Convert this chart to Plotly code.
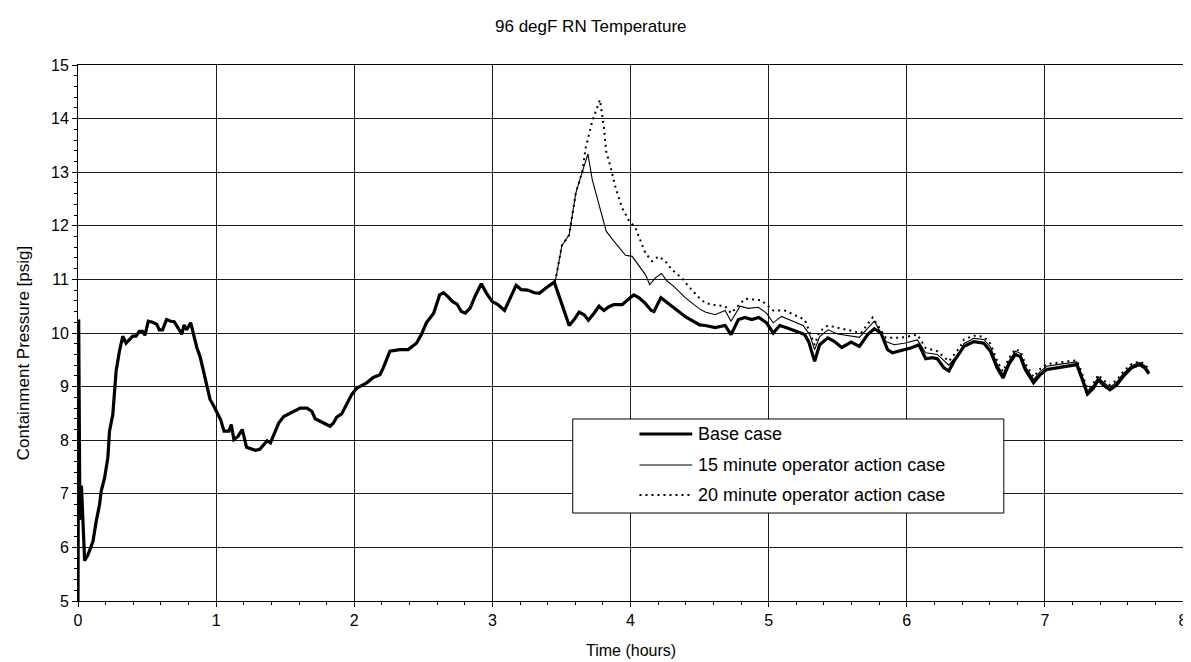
import plotly.graph_objects as go

# ---------------- data ----------------
# Shared part (all three cases identical up to ~3.45 h)
common_t = [0.0, 0.005, 0.012, 0.018, 0.025, 0.032, 0.048, 0.072, 0.108, 0.132, 0.156, 0.168, 0.192,
            0.216, 0.228, 0.252, 0.276, 0.300, 0.324, 0.348, 0.396, 0.42, 0.444, 0.468, 0.485, 0.509,
            0.54, 0.571, 0.588, 0.612, 0.641, 0.672, 0.696, 0.725, 0.752, 0.768, 0.787, 0.816, 0.836,
            0.860, 0.884, 0.908, 0.932, 0.956, 0.985, 1.009, 1.033, 1.057, 1.093, 1.110, 1.129, 1.158,
            1.189, 1.220, 1.249, 1.285, 1.316, 1.345, 1.369, 1.393, 1.422, 1.453, 1.489, 1.525, 1.573,
            1.609, 1.657, 1.693, 1.717, 1.753, 1.789, 1.825, 1.849, 1.873, 1.909, 1.945, 1.981, 2.018,
            2.09, 2.138, 2.186, 2.21, 2.258, 2.33, 2.39, 2.45, 2.486, 2.522, 2.575, 2.618, 2.647, 2.678,
            2.71, 2.744, 2.775, 2.804, 2.84, 2.879, 2.92, 2.956, 2.997, 3.04, 3.088, 3.129, 3.172, 3.208,
            3.256, 3.304, 3.34, 3.388, 3.448]
common_p = [5.0, 10.25, 7.24, 6.52, 7.15, 6.6, 5.75, 5.86, 6.11, 6.49, 6.80, 7.05, 7.29,
            7.67, 8.17, 8.48, 9.29, 9.66, 9.94, 9.81, 9.94, 9.94, 10.03, 10.03, 9.96, 10.22,
            10.2, 10.16, 10.06, 10.06, 10.25, 10.22, 10.21, 10.09, 9.98, 10.15, 10.06, 10.19, 9.96,
            9.73, 9.56, 9.28, 9.03, 8.76, 8.63, 8.51, 8.38, 8.17, 8.17, 8.29, 8.01, 8.07,
            8.20, 7.87, 7.84, 7.81, 7.83, 7.93, 7.99, 7.95, 8.13, 8.32, 8.44, 8.49, 8.54,
            8.60, 8.60, 8.54, 8.40, 8.35, 8.31, 8.26, 8.32, 8.43, 8.49, 8.66, 8.85, 8.97,
            9.07, 9.17, 9.22, 9.35, 9.66, 9.69, 9.69, 9.81, 9.97, 10.19, 10.37, 10.71, 10.75, 10.68,
            10.59, 10.54, 10.40, 10.37, 10.47, 10.71, 10.92, 10.75, 10.59, 10.53, 10.42, 10.65, 10.89, 10.81,
            10.80, 10.75, 10.74, 10.84, 10.95]

# Base case after the branch point
base_tail_t = [3.496, 3.556, 3.592, 3.628, 3.664, 3.695, 3.736, 3.772, 3.808, 3.844, 3.88, 3.94, 3.988,
               4.024, 4.06, 4.104, 4.15, 4.17, 4.22, 4.3, 4.4, 4.5, 4.541, 4.613, 4.685, 4.728, 4.781,
               4.829, 4.877, 4.929, 4.985, 5.033, 5.081, 5.141, 5.213, 5.261, 5.29, 5.333, 5.369, 5.429,
               5.477, 5.53, 5.597, 5.657, 5.717, 5.765, 5.813, 5.861, 5.897, 5.957, 6.029, 6.089, 6.137,
               6.185, 6.221, 6.269, 6.305, 6.341, 6.414, 6.486, 6.558, 6.606, 6.654, 6.697, 6.738, 6.786,
               6.822, 6.858, 6.918, 6.966, 7.014, 7.086, 7.159, 7.231, 7.267, 7.308, 7.351, 7.387, 7.423,
               7.471, 7.519, 7.567, 7.627, 7.687, 7.723, 7.754]
base_tail_p = [10.59, 10.14, 10.25, 10.39, 10.34, 10.24, 10.37, 10.50, 10.42, 10.49, 10.53, 10.53, 10.64,
               10.71, 10.66, 10.56, 10.42, 10.40, 10.66, 10.50, 10.30, 10.15, 10.14, 10.10, 10.14, 9.97, 10.25,
               10.29, 10.25, 10.29, 10.19, 10.0, 10.14, 10.09, 10.02, 9.97, 9.84, 9.47, 9.78, 9.91,
               9.84, 9.73, 9.83, 9.75, 9.97, 10.08, 10.0, 9.69, 9.63, 9.67, 9.72, 9.78, 9.52,
               9.54, 9.52, 9.35, 9.29, 9.47, 9.75, 9.84, 9.81, 9.66, 9.35, 9.16, 9.41, 9.60,
               9.56, 9.32, 9.07, 9.22, 9.32, 9.35, 9.38, 9.41, 9.16, 8.86, 8.97, 9.13, 9.03,
               8.94, 9.03, 9.19, 9.35, 9.41, 9.35, 9.24]

# 15 minute operator action case after the branch point
op15_tail_t = [3.46, 3.503, 3.556, 3.58, 3.604, 3.652, 3.692, 3.723, 3.771, 3.824, 3.868, 3.916, 3.964,
               4.012, 4.06, 4.108, 4.139, 4.18, 4.224, 4.265, 4.313, 4.4, 4.5, 4.541, 4.613, 4.685, 4.728,
               4.793, 4.853, 4.925, 4.985, 5.033, 5.093, 5.165, 5.249, 5.297, 5.333, 5.369, 5.429, 5.501,
               5.573, 5.657, 5.765, 5.849, 5.909, 5.981, 6.077, 6.137, 6.221, 6.305, 6.389, 6.414, 6.486,
               6.558, 6.606, 6.654, 6.697, 6.738, 6.786, 6.822, 6.858, 6.918, 6.966, 7.014, 7.086, 7.159,
               7.231, 7.267, 7.308, 7.351, 7.387, 7.423, 7.471, 7.519, 7.567, 7.627, 7.687, 7.723, 7.754]
op15_tail_p = [11.03, 11.63, 11.83, 12.24, 12.61, 13.02, 13.34, 12.86, 12.39, 11.90, 11.75, 11.59, 11.45,
               11.43, 11.27, 11.09, 10.90, 11.03, 11.11, 10.97, 10.87, 10.65, 10.45, 10.39, 10.34, 10.42, 10.22,
               10.50, 10.46, 10.48, 10.37, 10.19, 10.31, 10.23, 10.14, 9.97, 9.69, 9.93, 10.06, 9.98,
               9.95, 9.92, 10.22, 9.84, 9.78, 9.81, 9.87, 9.63, 9.60, 9.40, 9.66, 9.80, 9.90,
               9.88, 9.74, 9.42, 9.22, 9.47, 9.66, 9.62, 9.38, 9.13, 9.28, 9.38, 9.41, 9.44,
               9.46, 9.22, 8.92, 9.02, 9.18, 9.08, 8.99, 9.08, 9.24, 9.39, 9.45, 9.39, 9.28]

# 20 minute operator action case after it leaves the 15 minute curve
op20_tail_t = [3.675, 3.723, 3.779, 3.808, 3.824, 3.856, 3.892, 3.94, 3.988, 4.036, 4.072, 4.108, 4.156,
               4.204, 4.252, 4.30, 4.37, 4.42, 4.5, 4.541, 4.613, 4.685, 4.728, 4.829, 4.949, 5.033,
               5.117, 5.261, 5.333, 5.369, 5.429, 5.573, 5.669, 5.753, 5.849, 5.957, 6.077, 6.137, 6.221,
               6.305, 6.389, 6.414, 6.486, 6.558, 6.606, 6.654, 6.697, 6.738, 6.786, 6.822, 6.858, 6.918,
               6.966, 7.014, 7.086, 7.159, 7.231, 7.267, 7.308, 7.351, 7.387, 7.423, 7.471, 7.519, 7.567,
               7.627, 7.687, 7.723, 7.754]
op20_tail_p = [13.45, 13.95, 14.35, 13.83, 13.39, 13.09, 12.71, 12.33, 12.10, 11.96, 11.71, 11.49, 11.34,
               11.43, 11.34, 11.18, 11.03, 10.87, 10.65, 10.56, 10.52, 10.50, 10.37, 10.64, 10.61, 10.42,
               10.42, 10.25, 9.78, 10.03, 10.14, 10.06, 10.0, 10.29, 9.91, 9.91, 9.97, 9.72, 9.66,
               9.47, 9.75, 9.88, 9.95, 9.93, 9.80, 9.48, 9.28, 9.52, 9.70, 9.66, 9.43, 9.18,
               9.33, 9.42, 9.45, 9.47, 9.49, 9.26, 8.96, 9.06, 9.22, 9.12, 9.03, 9.12, 9.28,
               9.42, 9.47, 9.42, 9.32]

series_names = ["Base case", "15 minute operator action case", "20 minute operator action case"]
x_ticks = [0, 1, 2, 3, 4, 5, 6, 7, 8]
y_ticks = [5, 6, 7, 8, 9, 10, 11, 12, 13, 14, 15]

# build series
base_t = common_t + base_tail_t
base_p = common_p + base_tail_p
op15_t = common_t + op15_tail_t
op15_p = common_p + op15_tail_p
n_split = 6  # 20-min curve follows the 15-min curve up to 3.652 h
op20_t = common_t + op15_tail_t[:n_split] + op20_tail_t
op20_p = common_p + op15_tail_p[:n_split] + op20_tail_p

FONT = "Liberation Sans, Arial, Helvetica, sans-serif"

fig = go.Figure()
fig.add_trace(go.Scatter(x=op20_t, y=op20_p, mode="lines", name=series_names[2],
                         line=dict(color="black", width=2, dash="2px,4px"), showlegend=False))
fig.add_trace(go.Scatter(x=op15_t, y=op15_p, mode="lines", name=series_names[1],
                         line=dict(color="black", width=1.1), showlegend=False))
fig.add_trace(go.Scatter(x=base_t, y=base_p, mode="lines", name=series_names[0],
                         line=dict(color="black", width=3.2), showlegend=False))

L, R, T, B = 70, 1180, 57, 593
W, H = 1191, 662
def px(xp):
    return (xp - L) / (R - L)
def py(yp):
    return (B - yp) / (B - T)

fig.update_layout(
    width=W, height=H,
    margin=dict(l=L, r=W - R, t=T, b=H - B, pad=0),
    paper_bgcolor="white", plot_bgcolor="white",
    font=dict(family=FONT, color="black", size=16),
    showlegend=False,
)
fig.update_xaxes(range=[0, 8], tickvals=x_ticks, showgrid=True, gridcolor="#1a1a1a", gridwidth=1,
                 showline=True, linecolor="black", linewidth=1, mirror=True,
                 ticks="outside", ticklen=5, tickcolor="black", zeroline=False,
                 minor=dict(dtick=0.2, ticks="outside", ticklen=3, tickcolor="black", showgrid=False),
                 tickfont=dict(size=16, family=FONT))
fig.update_yaxes(range=[5, 15], tickvals=y_ticks, showgrid=True, gridcolor="#1a1a1a", gridwidth=1,
                 showline=True, linecolor="black", linewidth=1, mirror=True,
                 ticks="outside", ticklen=5, tickcolor="black", zeroline=False,
                 minor=dict(dtick=0.2, ticks="outside", ticklen=3, tickcolor="black", showgrid=False),
                 tickfont=dict(size=16, family=FONT))

# title and axis titles
fig.add_annotation(text="96 degF RN Temperature", xref="paper", yref="paper",
                   x=px(585), y=py(18), showarrow=False, font=dict(size=17, family=FONT),
                   xanchor="center", yanchor="middle")
fig.add_annotation(text="Time (hours)", xref="paper", yref="paper",
                   x=px(625), y=py(642), showarrow=False, font=dict(size=16, family=FONT),
                   xanchor="center", yanchor="middle")
fig.add_annotation(text="Containment Pressure [psig]", xref="paper", yref="paper",
                   x=px(15), y=py(345), showarrow=False, textangle=-90,
                   font=dict(size=17, family=FONT), xanchor="center", yanchor="middle")

# legend box (drawn manually to match the reference layout)
fig.add_shape(type="rect", xref="paper", yref="paper", x0=px(567), x1=px(1000), y0=py(505), y1=py(411),
              line=dict(color="black", width=1), fillcolor="white", layer="above")
leg_y = [426, 457, 487]
leg_styles = [dict(color="black", width=3.2), dict(color="black", width=1.1),
              dict(color="black", width=2, dash="2px,4px")]
for name, yy, st in zip(series_names, leg_y, leg_styles):
    fig.add_shape(type="line", xref="paper", yref="paper", x0=px(634), x1=px(687), y0=py(yy), y1=py(yy),
                  line=st, layer="above")
    fig.add_annotation(text=name, xref="paper", yref="paper", x=px(691), y=py(yy), showarrow=False,
                       xanchor="left", yanchor="middle", font=dict(size=18, family=FONT))

fig.write_html("out.html")
